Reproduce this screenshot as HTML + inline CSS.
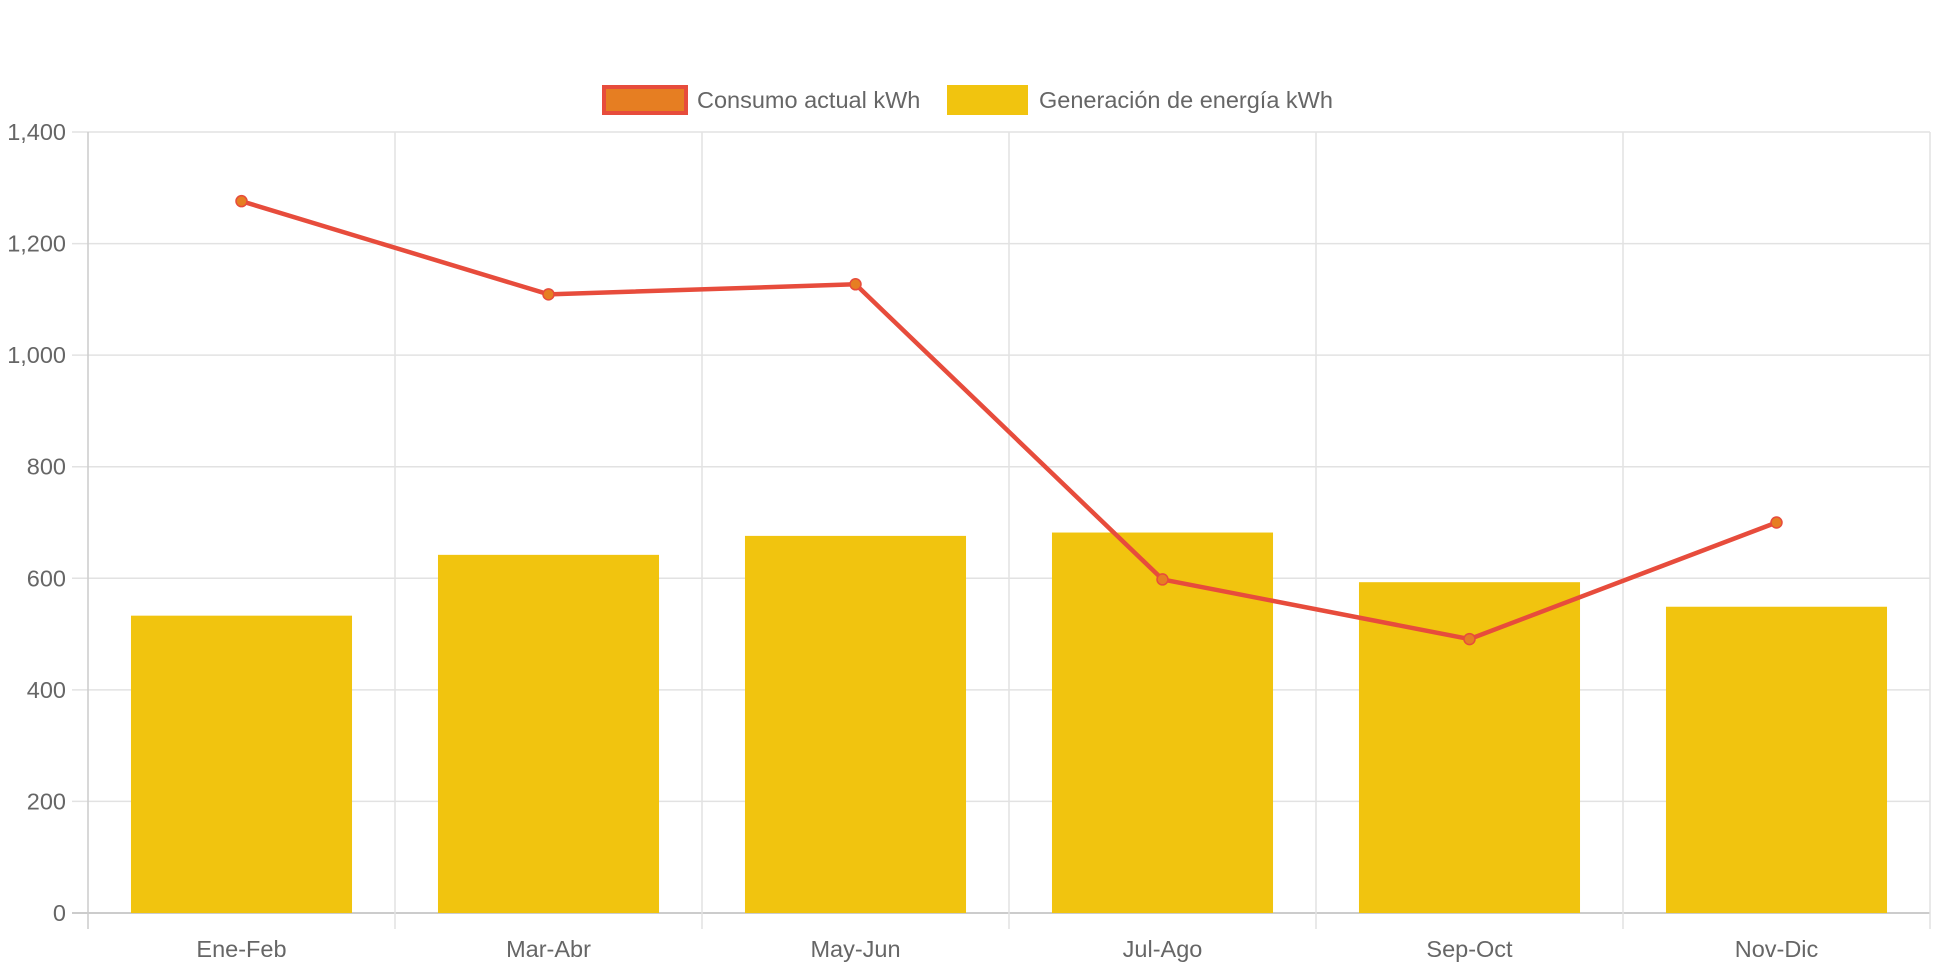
<!DOCTYPE html>
<html><head><meta charset="utf-8"><style>
body{margin:0;background:#fff;}
svg text{font-family:"Liberation Sans",sans-serif;fill:#666;}
</style></head><body>
<svg id="c" width="1942" height="970" xmlns="http://www.w3.org/2000/svg"></svg>
<script>
const categories=["Ene-Feb","Mar-Abr","May-Jun","Jul-Ago","Sep-Oct","Nov-Dic"];
const generation=[533,642,676,682,593,549];
const consumption=[1276,1109,1127,598,491,700];
const yTicks=[0,200,400,600,800,1000,1200,1400];
const yTickLabels=["0","200","400","600","800","1,000","1,200","1,400"];
const svg=document.getElementById('c');
const NS='http://www.w3.org/2000/svg';
const L=88,R=1930,T=132,B=913,YMAX=1400;
const cw=(R-L)/categories.length;
const y=v=>B-(v/YMAX)*(B-T);
const xc=i=>L+cw*(i+0.5);
function mk(t,a,p){const e=document.createElementNS(NS,t);for(const k in a)e.setAttribute(k,a[k]);(p||svg).appendChild(e);return e;}
const grid=mk('g',{});


yTicks.forEach((v,i)=>{
 mk('line',{x1:L-16,x2:R,y1:y(v),y2:y(v),stroke:i==0?'#ccc':'#e2e2e2','stroke-width':i==0?2:1.5},grid);
 const t=mk('text',{x:L-22,y:y(v)+8,'text-anchor':'end','font-size':23.5});
 t.textContent=yTickLabels[i];
 
 
});
for(let i=0;i<=categories.length;i++){
 mk('line',{x1:L+cw*i,x2:L+cw*i,y1:T,y2:B+16,stroke:i==0?'#ccc':'#e2e2e2','stroke-width':1.5},grid);
}
categories.forEach((c,i)=>{
 const bw=cw*0.72;
 const r=mk('rect',{x:xc(i)-bw/2,y:y(generation[i]),width:bw,height:B-y(generation[i]),fill:'#f1c40f'});
 
 
 const t=mk('text',{x:xc(i),y:957,'text-anchor':'middle','font-size':23.5});
 t.textContent=c;
 
 
});
const pts=consumption.map((v,i)=>xc(i)+','+y(v)).join(' ');
const pl=mk('polyline',{points:pts,fill:'none',stroke:'#e74c3c','stroke-width':4.5,'stroke-linejoin':'round'});


consumption.forEach((v,i)=>{
 const c=mk('circle',{cx:xc(i),cy:y(v),r:5.5,fill:'#e67e22',stroke:'#e74c3c','stroke-width':1.5});
 
 
});
const lg=mk('g',{});


const b1=mk('rect',{x:604,y:87,width:82,height:26,fill:'#e67e22',stroke:'#e74c3c','stroke-width':4},lg);


const t1=mk('text',{x:697,y:108,'font-size':23.5},lg);t1.textContent='Consumo actual kWh';


const b2=mk('rect',{x:947,y:85,width:81,height:30,fill:'#f1c40f'},lg);


const t2=mk('text',{x:1039,y:108,'font-size':23.5},lg);t2.textContent='Generación de energía kWh';


</script>
</body></html>
